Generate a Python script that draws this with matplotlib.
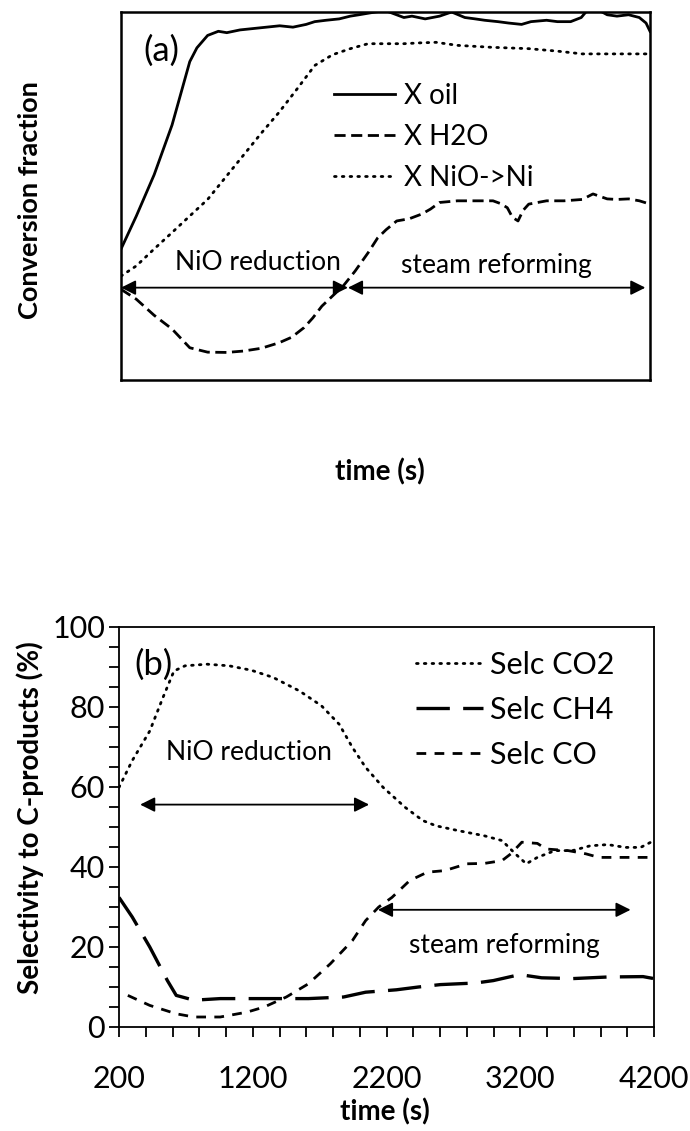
import matplotlib
matplotlib.use("Agg")
import matplotlib.pyplot as plt
from matplotlib.ticker import MultipleLocator, FixedLocator

plt.rcParams['font.family'] = ['Lato', 'DejaVu Sans']

# ---------------- panel (a) data ----------------
t_oil = [200, 316, 451, 586, 720, 774, 855, 936, 1000, 1100, 1200, 1300, 1400, 1500,
         1600, 1665, 1750, 1850, 1934, 2000, 2123, 2200, 2339, 2400, 2500, 2609, 2700,
         2800, 2878, 2950, 3050, 3130, 3229, 3300, 3418, 3500, 3600, 3680, 3715, 3800,
         3876, 3950, 4038, 4119, 4170, 4200]
x_oil = [0.14, 0.26, 0.41, 0.59, 0.82, 0.87, 0.915, 0.93, 0.925, 0.935, 0.94, 0.945,
         0.95, 0.945, 0.955, 0.965, 0.97, 0.975, 0.985, 0.99, 1.0, 1.005, 0.98, 0.985,
         0.975, 0.985, 1.0, 0.98, 0.975, 0.97, 0.965, 0.96, 0.955, 0.965, 0.97, 0.965,
         0.965, 0.98, 1.0, 1.01, 0.99, 0.985, 0.99, 0.98, 0.96, 0.93]

t_nio = [200, 316, 450, 586, 720, 855, 990, 1125, 1260, 1395, 1530, 1665, 1800, 1934,
         2069, 2200, 2339, 2460, 2582, 2743, 3000, 3283, 3500, 3688, 3900, 4200]
x_nio = [0.042, 0.079, 0.14, 0.20, 0.26, 0.32, 0.40, 0.48, 0.56, 0.636, 0.72, 0.806,
         0.845, 0.867, 0.885, 0.885, 0.885, 0.888, 0.89, 0.879, 0.872, 0.867, 0.858,
         0.848, 0.848, 0.848]

t_h2o = [200, 316, 450, 586, 720, 855, 1000, 1125, 1260, 1395, 1490, 1584, 1650, 1719,
         1800, 1880, 1970, 2069, 2140, 2204, 2285, 2380, 2474, 2540, 2609, 2743, 2878,
         3013, 3070, 3121, 3160, 3202, 3240, 3283, 3418, 3550, 3688, 3769, 3876, 3950,
         4038, 4120, 4200]
x_h2o = [-0.006, -0.042, -0.10, -0.15, -0.218, -0.234, -0.235, -0.23, -0.22, -0.20,
         -0.18, -0.145, -0.11, -0.067, -0.03, 0.006, 0.06, 0.127, 0.18, 0.21, 0.242,
         0.25, 0.267, 0.285, 0.309, 0.315, 0.315, 0.315, 0.305, 0.29, 0.255, 0.242,
         0.28, 0.303, 0.315, 0.315, 0.32, 0.34, 0.322, 0.32, 0.322, 0.315, 0.303]

# ---------------- panel (b) data ----------------
t_co2 = [200, 299, 430, 529, 611, 694, 858, 1023, 1188, 1352, 1550, 1714, 1846, 1945,
         2044, 2175, 2340, 2472, 2570, 2735, 2932, 3064, 3163, 3245, 3328, 3459, 3591,
         3723, 3854, 3986, 4100, 4200]
s_co2 = [59.9, 66.6, 74.0, 82.4, 89.0, 90.3, 90.7, 90.3, 89.2, 87.4, 84.0, 80.3, 75.7,
         69.9, 64.9, 59.9, 54.9, 51.6, 50.3, 49.1, 47.8, 46.6, 43.3, 40.8, 42.4, 44.1,
         44.1, 45.3, 45.6, 44.9, 44.9, 46.6]

t_ch4 = [200, 299, 430, 562, 628, 760, 957, 1286, 1616, 1879, 2044, 2274, 2439, 2603,
         2867, 2998, 3196, 3360, 3591, 3854, 4118, 4200]
s_ch4 = [32.4, 27.5, 20.0, 11.6, 7.9, 6.7, 7.1, 7.1, 7.1, 7.5, 8.7, 9.3, 10.0, 10.6,
         11.0, 11.6, 13.1, 12.3, 12.1, 12.5, 12.6, 12.1]

t_co = [266, 430, 628, 760, 957, 1155, 1286, 1451, 1616, 1780, 1945, 2044, 2142, 2241,
        2373, 2505, 2636, 2801, 2932, 3064, 3130, 3212, 3328, 3393, 3558, 3690, 3788,
        3920, 4200]
s_co = [7.9, 5.4, 3.3, 2.5, 2.5, 3.7, 5.0, 7.5, 10.8, 15.8, 21.6, 26.6, 30.0, 32.4,
        36.6, 38.7, 39.1, 40.8, 40.9, 41.6, 43.3, 46.2, 45.9, 44.5, 44.1, 43.3, 42.4,
        42.4, 42.4]

x_major = [200, 1200, 2200, 3200, 4200]
y_major = [0, 20, 40, 60, 80, 100]

W, H = 690, 1131
fig = plt.figure(figsize=(W / 100, H / 100), dpi=100)

def px_axes(l, t, r, b):
    return fig.add_axes([l / W, 1 - b / H, (r - l) / W, (b - t) / H])

LW = 2.0
FS = 19

# ---------------- panel (a) ----------------
ax1 = px_axes(121, 12, 650, 380)
ax1.plot(t_oil, x_oil, color='black', lw=LW, ls='-', label='X oil')
ax1.plot(t_h2o, x_h2o, color='black', lw=LW, ls=(0, (4, 2)), label='X H2O')
ax1.plot(t_nio, x_nio, color='black', lw=LW, ls=(0, (0.6, 2.2)),
         dash_capstyle='round', label='X NiO->Ni')
ax1.set_xlim(200, 4200)
ax1.set_ylim(-0.335, 1.0)
ax1.set_xticks([])
ax1.set_yticks([])
for s in ax1.spines.values():
    s.set_linewidth(1.8)
arrow_kw = dict(arrowstyle='<|-|>', color='black', lw=1.3,
                mutation_scale=22, shrinkA=0, shrinkB=0)
ax1.annotate('', xy=(200, 0), xytext=(1916, 0), arrowprops=arrow_kw)
ax1.annotate('', xy=(1916, 0), xytext=(4165, 0), arrowprops=arrow_kw)
ax1.text(1233, 0.09, 'NiO reduction', fontsize=FS, ha='center', va='center')
ax1.text(3040, 0.08, 'steam reforming', fontsize=FS, ha='center', va='center')
ax1.text(505, 0.86, '(a)', fontsize=25, ha='center', va='center')
ax1.legend(loc='upper left', bbox_to_anchor=(0.403, 0.808), frameon=False,
           fontsize=20, handlelength=2.2, handletextpad=0.3, labelspacing=0.55,
           borderaxespad=0, borderpad=0)
fig.text(30 / W, 1 - 200 / H, 'Conversion fraction', rotation=90, fontsize=19.5,
         fontweight='bold', ha='center', va='center')
fig.text(380 / W, 1 - 472 / H, 'time (s)', fontsize=20, fontweight='bold',
         ha='center', va='center')

# ---------------- panel (b) ----------------
ax2 = px_axes(119, 627, 654, 1027)
ax2.plot(t_co2, s_co2, color='black', lw=LW, ls=(0, (0.6, 2.2)),
         dash_capstyle='round', label='Selc CO2')
ax2.plot(t_ch4, s_ch4, color='black', lw=LW + 0.4, ls=(0, (10, 4)), label='Selc CH4')
ax2.plot(t_co, s_co, color='black', lw=LW, ls=(0, (3.5, 3)), label='Selc CO')
ax2.set_xlim(200, 4200)
ax2.set_ylim(0, 100)
ax2.xaxis.set_major_locator(FixedLocator(x_major))
ax2.xaxis.set_minor_locator(MultipleLocator(200))
ax2.yaxis.set_major_locator(FixedLocator(y_major))
ax2.yaxis.set_minor_locator(MultipleLocator(5))
ax2.set_xticklabels([str(v) for v in x_major])
ax2.set_yticklabels([str(v) for v in y_major])
ax2.tick_params(which='both', direction='out', length=7, width=1.3, labelsize=22)
ax2.tick_params(axis='x', which='major', pad=20)
ax2.tick_params(axis='y', which='major', pad=3)
for s in ax2.spines.values():
    s.set_linewidth(1.3)
ax2.annotate('', xy=(358, 55.6), xytext=(2070, 55.6), arrowprops=arrow_kw)
ax2.annotate('', xy=(2136, 29.3), xytext=(4025, 29.3), arrowprops=arrow_kw)
ax2.text(1175, 68.6, 'NiO reduction', fontsize=FS, ha='center', va='center')
ax2.text(3081, 20.4, 'steam reforming', fontsize=FS, ha='center', va='center')
ax2.text(455, 90.5, '(b)', fontsize=25, ha='center', va='center')
ax2.legend(loc='upper left', bbox_to_anchor=(0.555, 0.94), frameon=False,
           fontsize=22, handlelength=2.2, handletextpad=0.23, labelspacing=0.55,
           borderaxespad=0, borderpad=0)
fig.text(385 / W, 1 - 1112 / H, 'time (s)', fontsize=20, fontweight='bold',
         ha='center', va='center')
fig.text(30 / W, 1 - 818 / H, 'Selectivity to C-products (%)', rotation=90,
         fontsize=20, fontweight='bold', ha='center', va='center')

fig.savefig('out.png', dpi=100)
